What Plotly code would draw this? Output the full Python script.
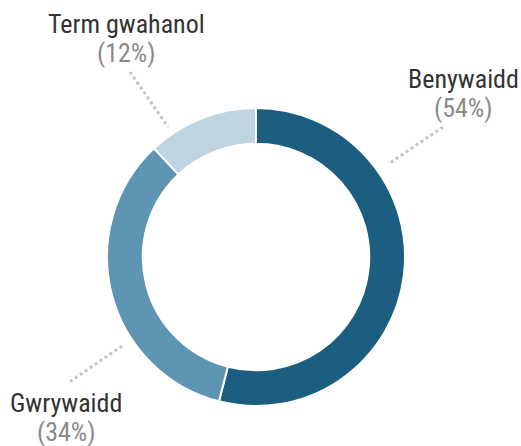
import plotly.graph_objects as go

labels = ["Benywaidd", "Gwrywaidd", "Term gwahanol"]
values = [54, 34, 12]
colors = ["#1b5e80", "#5e95b3", "#bed4df"]

W, H = 521, 446
cx, cy, R = 256, 257, 149

# label centres (px): name line, percent line below it
label_pos = [(463, 79), (66, 403), (126, 24)]
LINE = 29
leaders = [((443, 127), (390, 163)), ((122, 346), (68, 383)), ((130, 72), (168, 127))]
FONT = "Roboto Condensed, Liberation Sans Narrow, Roboto, sans-serif"

fig = go.Figure()
fig.add_trace(go.Pie(
    labels=labels, values=values, hole=0.76, sort=False, direction="clockwise",
    rotation=0, marker=dict(colors=colors, line=dict(color="white", width=2)),
    textinfo="none", hoverinfo="label+percent", showlegend=False,
    domain=dict(x=[(cx - R) / W, (cx + R) / W], y=[(H - cy - R) / H, (H - cy + R) / H]),
))

total = sum(values)
for lab, val, (x, y) in zip(labels, values, label_pos):
    pct = round(100 * val / total)
    fig.add_annotation(x=x, y=y, xref="x", yref="y", showarrow=False, yanchor="middle",
                       text=lab, font=dict(size=26, color="#333333", family=FONT, weight=400))
    fig.add_annotation(x=x, y=y + LINE, xref="x", yref="y", showarrow=False, yanchor="middle",
                       text=f"({pct}%)", font=dict(size=26, color="#8a8a8a", family=FONT, weight=400))

for (x0, y0), (x1, y1) in leaders:
    fig.add_shape(type="line", x0=x0, y0=y0, x1=x1, y1=y1, xref="x", yref="y",
                  line=dict(color="#c4c4c4", width=3, dash="dot"))

fig.update_layout(
    width=W, height=H, margin=dict(l=0, r=0, t=0, b=0),
    paper_bgcolor="white", plot_bgcolor="rgba(0,0,0,0)",
    xaxis=dict(range=[0, W], visible=False, fixedrange=True),
    yaxis=dict(range=[H, 0], visible=False, fixedrange=True),
)
fig.write_html("out.html", config={"displayModeBar": False},
               post_script="document.body.style.margin='0';document.body.style.overflow='hidden';")
